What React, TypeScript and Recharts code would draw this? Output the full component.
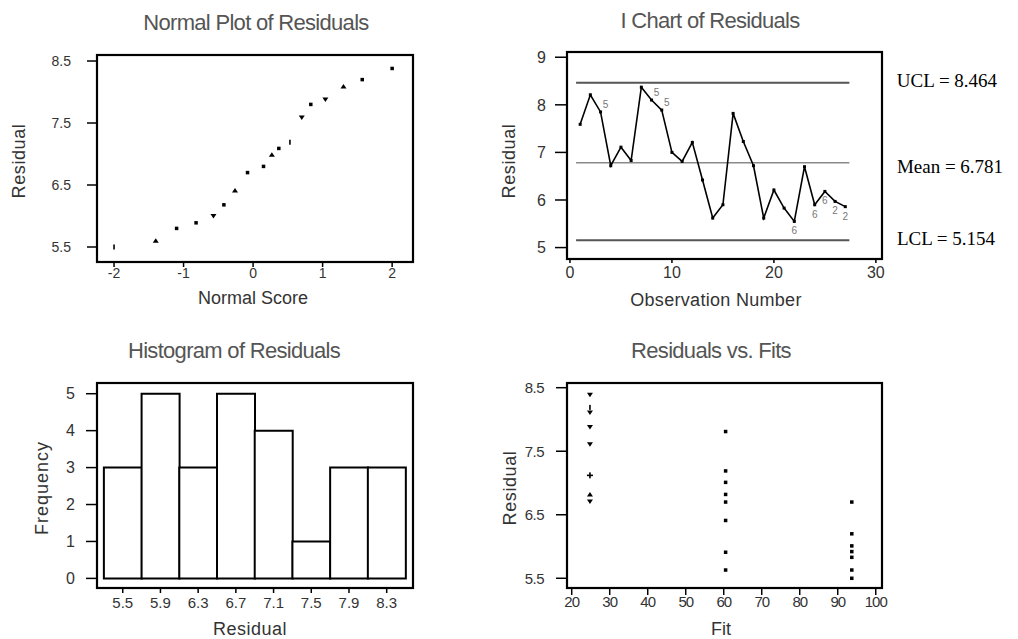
import React from 'react';
import {
  ScatterChart, Scatter, XAxis, YAxis, LineChart, Line,
  ReferenceLine, BarChart, Bar, LabelList,
} from 'recharts';

// ---------- DATA ----------
// Normal plot of residuals
const normalScores = [-2.0, -1.4, -1.1, -0.82, -0.57, -0.42, -0.26, -0.08, 0.15, 0.27, 0.37, 0.53, 0.70, 0.83, 1.04, 1.30, 1.57, 2.0];
const normalResiduals = [5.5, 5.6, 5.8, 5.89, 6.0, 6.18, 6.41, 6.7, 6.8, 6.99, 7.09, 7.19, 7.59, 7.8, 7.88, 8.09, 8.2, 8.38];
const normalSymbols = ['tick', 'up', 'sq', 'sq', 'down', 'sq', 'up', 'sq', 'sq', 'up', 'sq', 'tick', 'down', 'sq', 'down', 'up', 'sq', 'sq'];

// I chart of residuals
const observations = [1, 2, 3, 4, 5, 6, 7, 8, 9, 10, 11, 12, 13, 14, 15, 16, 17, 18, 19, 20, 21, 22, 23, 24, 25, 26, 27];
const iResiduals = [7.59, 8.21, 7.85, 6.72, 7.11, 6.83, 8.37, 8.1, 7.89, 7.0, 6.81, 7.21, 6.42, 5.62, 5.9, 7.82, 7.23, 6.72, 5.62, 6.21, 5.83, 5.55, 6.7, 5.9, 6.18, 5.97, 5.86];
const testFlags = ['', '', '5', '', '', '', '', '5', '5', '', '', '', '', '', '', '', '', '', '', '', '', '6', '', '6', '6', '2', '2'];
const limitLabels = ['UCL = 8.464', 'Mean = 6.781', 'LCL = 5.154'];
const limitValues = [8.464, 6.781, 5.154];
const limitSpan = [0.6, 27.4];

// Histogram of residuals
const histBins = [5.5, 5.9, 6.3, 6.7, 7.1, 7.5, 7.9, 8.3];
const histFreq = [3, 5, 3, 5, 4, 1, 3, 3];

// Residuals vs fits
const fitValues = [24.8, 24.8, 24.8, 24.8, 24.8, 24.8, 24.8, 24.8, 60.5, 60.5, 60.5, 60.5, 60.5, 60.5, 60.5, 60.5, 93.7, 93.7, 93.7, 93.7, 93.7, 93.7, 93.7];
const fitResiduals = [8.39, 8.19, 8.11, 7.88, 7.61, 7.12, 6.82, 6.71, 7.81, 7.19, 7.01, 6.82, 6.7, 6.41, 5.91, 5.63, 6.7, 6.2, 6.01, 5.92, 5.83, 5.63, 5.5];
const fitSymbols = ['down', 'tick', 'down', 'down', 'down', 'plus', 'up', 'down', 'sq', 'sq', 'sq', 'sq', 'sq', 'sq', 'sq', 'sq', 'sq', 'sq', 'sq', 'sq', 'sq', 'sq', 'sq'];

// tick labels
const p1XTicks = [-2, -1, 0, 1, 2];
const p1YTicks = [5.5, 6.5, 7.5, 8.5];
const p2XTicks = [0, 10, 20, 30];
const p2YTicks = [5, 6, 7, 8, 9];
const p3YTicks = [0, 1, 2, 3, 4, 5];
const p4XTicks = [20, 30, 40, 50, 60, 70, 80, 90, 100];
const p4YTicks = [5.5, 6.5, 7.5, 8.5];

// ---------- TABLES ----------
const normalData = normalScores.map((x, i) => ({ x, y: normalResiduals[i], sym: normalSymbols[i] }));
const iData = observations.map((obs, i) => ({ obs, res: iResiduals[i], flag: testFlags[i] }));
const histData = histBins.map((bin, i) => ({ bin, freq: histFreq[i] }));
const fitData = fitValues.map((x, i) => ({ x, y: fitResiduals[i], sym: fitSymbols[i] }));

// ---------- LAYOUT ----------
const W = 1018;
const H = 639;
const FONT = '"Liberation Sans", Arial, sans-serif';

type Box = { left: number; top: number; width: number; height: number };
type Rect = { left: number; top: number; right: number; bottom: number };

const marginsFor = (box: Box, f: Rect, yw: number, xh: number) => ({
  left: f.left - box.left - yw,
  top: f.top - box.top,
  right: box.left + box.width - f.right,
  bottom: box.top + box.height - f.bottom - xh,
});

const box1: Box = { left: 0, top: 0, width: 509, height: 319 };
const box2: Box = { left: 509, top: 0, width: 509, height: 319 };
const box3: Box = { left: 0, top: 319, width: 509, height: 320 };
const box4: Box = { left: 509, top: 319, width: 509, height: 320 };

const frame1: Rect = { left: 97, top: 55, right: 413, bottom: 262 };
const frame2: Rect = { left: 567, top: 52, right: 882, bottom: 259 };
const frame3: Rect = { left: 97, top: 383, right: 413, bottom: 588 };
const frame4: Rect = { left: 567, top: 383, right: 882, bottom: 588 };
const frames = [frame1, frame2, frame3, frame4];

const p1X: [number, number] = [-2.245, 2.3];
const p1Y: [number, number] = [5.258, 8.597];
const p2X: [number, number] = [-0.29, 30.6];
const p2Y: [number, number] = [4.76, 9.11];
const p3X: [number, number] = [5.227, 8.579];
const p3Y: [number, number] = [-0.26, 5.29];
const p4X: [number, number] = [18.76, 101.65];
const p4Y: [number, number] = [5.347, 8.574];

const tickLine = { stroke: '#000', strokeWidth: 1.5 };

const Marker = (props: any) => {
  const { cx, cy, payload } = props;
  if (cx == null || cy == null) return null;
  const s = payload?.sym;
  if (s === 'up') return <path d={`M${cx - 3},${cy + 2}L${cx + 3},${cy + 2}L${cx},${cy - 2.5}Z`} fill="#000" />;
  if (s === 'down') return <path d={`M${cx - 3},${cy - 2}L${cx + 3},${cy - 2}L${cx},${cy + 2.5}Z`} fill="#000" />;
  if (s === 'tick') return <rect x={cx - 0.8} y={cy - 2.5} width={1.6} height={5} fill="#000" />;
  if (s === 'plus') return (
    <g>
      <rect x={cx - 3} y={cy - 0.8} width={6} height={1.6} fill="#000" />
      <rect x={cx - 0.8} y={cy - 3} width={1.6} height={6} fill="#000" />
    </g>
  );
  return <rect x={cx - 1.75} y={cy - 1.75} width={3.5} height={3.5} fill="#000" />;
};

const SquareDot = (props: any) => {
  const { cx, cy } = props;
  if (cx == null || cy == null) return null;
  return <rect key={`d${props.index}`} x={cx - 1.5} y={cy - 1.5} width={3} height={3} fill="#000" />;
};

const FlagLabel = (props: any) => {
  const { x, y, value, index } = props;
  if (!value) return null;
  const above = iResiduals[index] > limitValues[1];
  return (
    <text x={above ? x + 5 : x} y={above ? y - 4 : y + 13} fontSize={10} fill="#777" textAnchor="middle" fontFamily={FONT}>
      {value}
    </text>
  );
};

const abs = (b: Box): React.CSSProperties => ({ position: 'absolute', left: b.left, top: b.top });

export default function App() {
  return (
    <div style={{ position: 'absolute', left: 0, top: 0, width: W, height: H, background: '#fff', fontFamily: FONT, overflow: 'hidden' }}>
      {/* Normal plot */}
      <div style={abs(box1)}>
        <ScatterChart width={box1.width} height={box1.height} margin={marginsFor(box1, frame1, 60, 30)}>
          <XAxis type="number" dataKey="x" domain={p1X} ticks={p1XTicks} interval={0} allowDataOverflow height={30}
            axisLine={false} tickLine={tickLine} tickSize={5} tickMargin={1} tick={{ fontSize: 14, fill: '#333' }} />
          <YAxis type="number" dataKey="y" domain={p1Y} ticks={p1YTicks} interval={0} allowDataOverflow width={60}
            axisLine={false} tickLine={tickLine} tickSize={10} tickMargin={16} tick={{ fontSize: 14, fill: '#333' }} />
          <Scatter data={normalData} shape={Marker} isAnimationActive={false} />
        </ScatterChart>
      </div>

      {/* I chart */}
      <div style={abs(box2)}>
        <LineChart width={box2.width} height={box2.height} data={iData} margin={marginsFor(box2, frame2, 40, 30)}>
          <XAxis type="number" dataKey="obs" domain={p2X} ticks={p2XTicks} interval={0} allowDataOverflow height={30}
            axisLine={false} tickLine={tickLine} tickSize={4} tickMargin={4} tick={{ fontSize: 16, fill: '#333' }} />
          <YAxis type="number" domain={p2Y} ticks={p2YTicks} interval={0} allowDataOverflow width={40}
            axisLine={false} tickLine={tickLine} tickSize={12} tickMargin={9} tick={{ fontSize: 16, fill: '#333' }} />
          {limitValues.map((v, i) => (
            <ReferenceLine key={limitLabels[i]} segment={[{ x: limitSpan[0], y: v }, { x: limitSpan[1], y: v }]}
              stroke={i === 1 ? '#8a8a8a' : '#555'} strokeWidth={i === 1 ? 1.5 : 2} />
          ))}
          <Line dataKey="res" stroke="#000" strokeWidth={1.6} dot={SquareDot} activeDot={false} isAnimationActive={false} type="linear">
            <LabelList dataKey="flag" content={FlagLabel} />
          </Line>
        </LineChart>
      </div>

      {/* Histogram */}
      <div style={abs(box3)}>
        <BarChart width={box3.width} height={box3.height} data={histData} margin={marginsFor(box3, frame3, 60, 30)} barCategoryGap={0} barGap={0}>
          <XAxis type="number" dataKey="bin" domain={p3X} ticks={histBins} interval={0} allowDataOverflow height={30}
            axisLine={false} tickLine={tickLine} tickSize={5} tickMargin={4} tick={{ fontSize: 15, fill: '#333' }} />
          <YAxis type="number" domain={p3Y} ticks={p3YTicks} interval={0} allowDataOverflow width={60}
            axisLine={false} tickLine={tickLine} tickSize={11} tickMargin={11} tick={{ fontSize: 16, fill: '#333' }} />
          <Bar dataKey="freq" fill="#fff" stroke="#000" strokeWidth={2} isAnimationActive={false} />
        </BarChart>
      </div>

      {/* Residuals vs fits */}
      <div style={abs(box4)}>
        <ScatterChart width={box4.width} height={box4.height} margin={marginsFor(box4, frame4, 40, 30)}>
          <XAxis type="number" dataKey="x" domain={p4X} ticks={p4XTicks} interval={0} allowDataOverflow height={30}
            axisLine={false} tickLine={tickLine} tickSize={7} tickMargin={1} tick={{ fontSize: 15, fill: '#333', letterSpacing: -1 }} />
          <YAxis type="number" dataKey="y" domain={p4Y} ticks={p4YTicks} interval={0} allowDataOverflow width={40}
            axisLine={false} tickLine={tickLine} tickSize={11} tickMargin={12} tick={{ fontSize: 15, fill: '#333', letterSpacing: -0.5 }} />
          <Scatter data={fitData} shape={Marker} isAnimationActive={false} />
        </ScatterChart>
      </div>

      {/* Plot frames, titles, axis labels and control-limit labels */}
      <svg width={W} height={H} style={{ position: 'absolute', left: 0, top: 0, pointerEvents: 'none' }} fontFamily={FONT}>
        {frames.map((f, i) => (
          <rect key={i} x={f.left} y={f.top} width={f.right - f.left} height={f.bottom - f.top} fill="none" stroke="#000" strokeWidth={2.2} />
        ))}
        <g fill="#555" fontSize={22} letterSpacing={-0.7} textAnchor="middle">
          <text x={256} y={30}>Normal Plot of Residuals</text>
          <text x={710} y={28}>I Chart of Residuals</text>
          <text x={234} y={358}>Histogram of Residuals</text>
          <text x={711} y={358}>Residuals vs. Fits</text>
        </g>
        <g fill="#333" fontSize={18} textAnchor="middle">
          <text x={253} y={304}>Normal Score</text>
          <text x={716} y={306} letterSpacing={0.3}>Observation Number</text>
          <text x={250} y={635} letterSpacing={0.5}>Residual</text>
          <text x={721} y={635}>Fit</text>
          <text transform="translate(25,161) rotate(-90)" letterSpacing={0.6}>Residual</text>
          <text transform="translate(515,161) rotate(-90)" letterSpacing={0.6}>Residual</text>
          <text transform="translate(48,488) rotate(-90)" letterSpacing={1}>Frequency</text>
          <text transform="translate(516,488) rotate(-90)" letterSpacing={0.6}>Residual</text>
        </g>
        <g fill="#000" fontSize={19} fontFamily='"Liberation Serif", "Times New Roman", serif' textAnchor="middle">
          <text x={947} y={87}>{limitLabels[0]}</text>
          <text x={950} y={173}>{limitLabels[1]}</text>
          <text x={946} y={245}>{limitLabels[2]}</text>
        </g>
      </svg>
    </div>
  );
}
